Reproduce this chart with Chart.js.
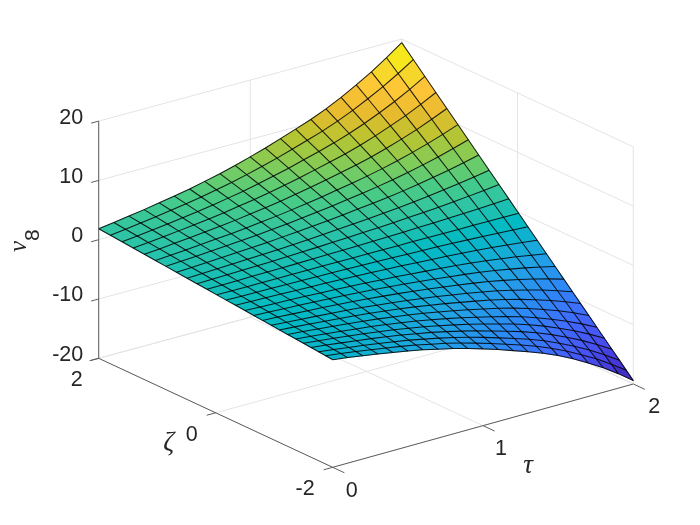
<!DOCTYPE html>
<html><head><meta charset="utf-8">
<style>html,body{margin:0;padding:0;background:#fff}canvas{display:block}</style>
<script src="https://cdn.jsdelivr.net/npm/chart.js@4"></script></head>
<body><canvas id="c" width="700" height="525"></canvas>
<script>
const tau=[0,0.1,0.2,0.3,0.4,0.5,0.6,0.7,0.8,0.9,1,1.1,1.2,1.3,1.4,1.5,1.6,1.7,1.8,1.9,2];
const zeta=[-2,-1.88,-1.76,-1.63,-1.5,-1.37,-1.23,-1.09,-0.95,-0.8,-0.65,-0.5,-0.34,-0.18,-0.02,0.15,0.32,0.49,0.67,0.85,1.03,1.22,1.41,1.6,1.8,2];
const nu8=[
[-1.85,-2.2,-2.6,-3,-3.45,-3.9,-4.4,-5,-5.6,-6.3,-7.05,-7.85,-8.75,-9.65,-10.6,-11.7,-12.95,-14.35,-15.85,-17.55,-19.4],
[-1.74,-2.07,-2.44,-2.82,-3.24,-3.67,-4.14,-4.7,-5.26,-5.92,-6.63,-7.38,-8.23,-9.07,-9.96,-11,-12.17,-13.49,-14.9,-16.5,-18.24],
[-1.63,-1.94,-2.29,-2.64,-3.04,-3.43,-3.87,-4.4,-4.93,-5.54,-6.2,-6.91,-7.7,-8.49,-9.33,-10.3,-11.4,-12.63,-13.95,-15.44,-17.07],
[-1.51,-1.79,-2.12,-2.45,-2.81,-3.18,-3.59,-4.08,-4.56,-5.13,-5.75,-6.4,-7.13,-7.86,-8.64,-9.54,-10.55,-11.7,-12.92,-14.3,-15.81],
[-1.39,-1.65,-1.95,-2.25,-2.59,-2.93,-3.3,-3.75,-4.2,-4.73,-5.29,-5.89,-6.56,-7.24,-7.95,-8.78,-9.71,-10.76,-11.89,-13.16,-14.55],
[-1.27,-1.51,-1.78,-2.06,-2.36,-2.67,-3.01,-3.43,-3.84,-4.32,-4.83,-5.38,-5.99,-6.61,-7.26,-8.01,-8.87,-9.83,-10.86,-12.02,-13.29],
[-1.14,-1.35,-1.6,-1.85,-2.12,-2.4,-2.71,-3.08,-3.44,-3.87,-4.34,-4.83,-5.38,-5.93,-6.52,-7.2,-7.96,-8.83,-9.75,-10.79,-11.93],
[-1.01,-1.2,-1.42,-1.64,-1.88,-2.13,-2.4,-2.73,-3.05,-3.43,-3.84,-4.28,-4.77,-5.26,-5.78,-6.38,-7.06,-7.82,-8.64,-9.56,-10.57],
[-0.88,-1.05,-1.24,-1.43,-1.64,-1.85,-2.09,-2.38,-2.66,-2.99,-3.35,-3.73,-4.16,-4.58,-5.04,-5.56,-6.15,-6.82,-7.53,-8.34,-9.22],
[-0.74,-0.88,-1.04,-1.2,-1.38,-1.56,-1.76,-2,-2.24,-2.52,-2.82,-3.14,-3.5,-3.86,-4.24,-4.68,-5.18,-5.74,-6.34,-7.02,-7.76],
[-0.6,-0.72,-0.85,-0.98,-1.12,-1.27,-1.43,-1.63,-1.82,-2.05,-2.29,-2.55,-2.84,-3.14,-3.45,-3.8,-4.21,-4.66,-5.15,-5.7,-6.31],
[-0.46,-0.55,-0.65,-0.75,-0.86,-0.98,-1.1,-1.25,-1.4,-1.58,-1.76,-1.96,-2.19,-2.41,-2.65,-2.93,-3.24,-3.59,-3.96,-4.39,-4.85],
[-0.31,-0.37,-0.44,-0.51,-0.59,-0.66,-0.75,-0.85,-0.95,-1.07,-1.2,-1.33,-1.49,-1.64,-1.8,-1.99,-2.2,-2.44,-2.69,-2.98,-3.3],
[-0.17,-0.2,-0.23,-0.27,-0.31,-0.35,-0.4,-0.45,-0.5,-0.57,-0.63,-0.71,-0.79,-0.87,-0.95,-1.05,-1.17,-1.29,-1.43,-1.58,-1.75],
[-0.02,-0.02,-0.03,-0.03,-0.03,-0.04,-0.04,-0.05,-0.06,-0.06,-0.07,-0.08,-0.09,-0.1,-0.11,-0.12,-0.13,-0.14,-0.16,-0.18,-0.19],
[0.14,0.17,0.2,0.23,0.26,0.29,0.33,0.38,0.42,0.47,0.53,0.59,0.66,0.72,0.8,0.88,0.97,1.08,1.19,1.32,1.46],
[0.3,0.35,0.42,0.48,0.55,0.62,0.7,0.8,0.9,1.01,1.13,1.26,1.4,1.54,1.7,1.87,2.07,2.3,2.54,2.81,3.1],
[0.45,0.54,0.64,0.74,0.85,0.96,1.08,1.23,1.37,1.54,1.73,1.92,2.14,2.36,2.6,2.87,3.17,3.52,3.88,4.3,4.75],
[0.62,0.74,0.87,1.01,1.16,1.31,1.47,1.68,1.88,2.11,2.36,2.63,2.93,3.23,3.55,3.92,4.34,4.81,5.31,5.88,6.5],
[0.79,0.94,1.11,1.28,1.47,1.66,1.87,2.13,2.38,2.68,3,3.34,3.72,4.1,4.51,4.97,5.5,6.1,6.74,7.46,8.25],
[0.95,1.13,1.34,1.55,1.78,2.01,2.27,2.58,2.88,3.24,3.63,4.04,4.51,4.97,5.46,6.03,6.67,7.39,8.16,9.04,9.99],
[1.13,1.34,1.59,1.83,2.1,2.38,2.68,3.05,3.42,3.84,4.3,4.79,5.34,5.89,6.47,7.14,7.9,8.75,9.67,10.71,11.83],
[1.3,1.55,1.83,2.12,2.43,2.75,3.1,3.53,3.95,4.44,4.97,5.53,6.17,6.8,7.47,8.25,9.13,10.12,11.17,12.37,13.68],
[1.48,1.76,2.08,2.4,2.76,3.12,3.52,4,4.48,5.04,5.64,6.28,7,7.72,8.48,9.36,10.36,11.48,12.68,14.04,15.52],
[1.67,1.98,2.34,2.7,3.11,3.51,3.96,4.5,5.04,5.67,6.35,7.07,7.88,8.69,9.54,10.53,11.66,12.92,14.27,15.8,17.46],
[1.85,2.2,2.6,3,3.45,3.9,4.4,5,5.6,6.3,7.05,7.85,8.75,9.65,10.6,11.7,12.95,14.35,15.85,17.55,19.4]
];
const tauTicks=[0,1,2];
const zetaTicks=[2,0,-2];
const nuTicks=[20,10,0,-10,-20];

// view: where the floor corners of the axes box land on the picture plane
const view={A:[332.7,467.3],B:[633.3,384],C:[98.7,358.3],D:[401.7,276.3],zUnit:5.93,zFloor:-20};
function proj(t,s,z){
  const u=t/2,v=(s+2)/4;
  const x=(1-u)*(1-v)*view.A[0]+u*(1-v)*view.B[0]+(1-u)*v*view.C[0]+u*v*view.D[0];
  const y=(1-u)*(1-v)*view.A[1]+u*(1-v)*view.B[1]+(1-u)*v*view.C[1]+u*v*view.D[1];
  return {x,y:y-(z-view.zFloor)*view.zUnit};
}
// parula colormap stops: [index of 63, r, g, b]
const parula=[[0,.2422,.1504,.6603],[4,.2706,.2147,.8364],[9,.2810,.3228,.9579],[14,.2440,.4358,.9988],[18,.1786,.5289,.9682],[24,.1248,.6459,.8883],[30,.0067,.7312,.7660],[34,.1717,.7670,.6554],[38,.2906,.7973,.5188],[42,.5044,.7993,.348],[46,.7242,.7698,.191],[50,.9035,.733,.1774],[54,.9961,.7653,.2199],[58,.9619,.8639,.1537],[63,.9763,.9831,.0538]];
function color(z){
  const t=Math.max(0,Math.min(1,(z+19.4)/38.8))*63;
  let i=0;while(i<parula.length-2&&parula[i+1][0]<=t)i++;
  const a=parula[i],b=parula[i+1],f=(t-a[0])/(b[0]-a[0]);
  const c=[1,2,3].map(k=>Math.round(255*(a[k]+(b[k]-a[k])*f)));
  return `rgb(${c[0]},${c[1]},${c[2]})`;
}
function lineDs(pts,col,w,order){
  return {data:pts,showLine:true,borderColor:col,borderWidth:w,pointRadius:0,tension:0,fill:false,order,borderCapStyle:'butt'};
}
const datasets=[];
const GRID='#e4e4e4',AX='#5e5e5e';
// back walls and floor grid
function gridPath(a,b){datasets.push(lineDs([proj(...a),proj(...b)],GRID,1,3));}
nuTicks.forEach(z=>{gridPath([0,2,z],[2,2,z]);gridPath([2,2,z],[2,-2,z]);});
tauTicks.forEach(t=>{gridPath([t,2,-20],[t,2,20]);gridPath([t,2,-20],[t,-2,-20]);});
zetaTicks.forEach(s=>{gridPath([2,s,-20],[2,s,20]);gridPath([0,s,-20],[2,s,-20]);});
// surface faces
for(let j=0;j<zeta.length-1;j++)for(let i=0;i<tau.length-1;i++){
  const a=proj(tau[i],zeta[j],nu8[j][i]),b=proj(tau[i+1],zeta[j],nu8[j][i+1]),
        c=proj(tau[i+1],zeta[j+1],nu8[j+1][i+1]),d=proj(tau[i],zeta[j+1],nu8[j+1][i]);
  const col=color((nu8[j][i]+nu8[j][i+1]+nu8[j+1][i]+nu8[j+1][i+1])/4);
  const ds=lineDs([a,b,c,d,a],col,0.6,2);
  ds.fill='shape';ds.backgroundColor=col;
  datasets.push(ds);
}
// mesh
const MESH='rgba(0,0,0,0.85)';
zeta.forEach((s,j)=>datasets.push(lineDs(tau.map((t,i)=>proj(t,s,nu8[j][i])),MESH,1.05,1)));
tau.forEach((t,i)=>datasets.push(lineDs(zeta.map((s,j)=>proj(t,s,nu8[j][i])),MESH,1.05,1)));
// axes
datasets.push(lineDs([proj(0,2,-20),proj(0,2,20)],AX,1,0));
datasets.push(lineDs([proj(0,2,-20),proj(0,-2,-20)],AX,1,0));
datasets.push(lineDs([proj(0,-2,-20),proj(2,-2,-20)],AX,1,0));
// ticks
nuTicks.forEach(z=>datasets.push(lineDs([proj(0,2,z),proj(-0.05,2,z)],AX,1,0)));
zetaTicks.forEach(s=>datasets.push(lineDs([proj(0,s,-20),proj(-0.06,s,-20)],AX,1,0)));
tauTicks.forEach(t=>datasets.push(lineDs([proj(t,-2,-20),proj(t,-2.2,-20)],AX,1,0)));

const TEXT='#262626';
const labelPlugin={id:'labels',afterDraw(chart){
  const g=chart.ctx,X=chart.scales.x,Y=chart.scales.y;
  function put(str,p,dx,dy,align,font){
    g.save();g.font=font;g.fillStyle=TEXT;g.textAlign=align;g.textBaseline='middle';
    g.fillText(str,X.getPixelForValue(p.x)+dx,Y.getPixelForValue(p.y)+dy);g.restore();
  }
  const num='21.5px "Liberation Sans"',greek='italic 27px "Liberation Serif"';
  nuTicks.forEach(z=>put(String(z),proj(0,2,z),-15.5,-3.5,'right',num));
  zetaTicks.forEach(s=>put(String(s),proj(0,s,-20),s===2?-16:s===0?-18:-18,22,'right',num));
  tauTicks.forEach(t=>put(String(t),proj(t,-2,-20),t===0?19:t===1?18:21,t===0?24:23,'center',num));
  put('τ',proj(1,-2,-20),45,40,'center',greek);
  put('ζ',proj(0,0,-20),-47,30,'center',greek);
  g.save();g.translate(X.getPixelForValue(26),Y.getPixelForValue(241));g.rotate(-Math.PI/2);
  g.fillStyle=TEXT;g.textBaseline='alphabetic';g.textAlign='left';
  g.font='italic 25px "Liberation Serif"';g.fillText('ν',-11,0);
  g.font='21px "Liberation Sans"';g.fillText('8',0,13);
  g.restore();
}};
new Chart(document.getElementById('c'),{
  type:'scatter',
  data:{datasets},
  options:{responsive:false,animation:false,
    layout:{padding:0},
    plugins:{legend:{display:false},tooltip:{enabled:false}},
    scales:{x:{type:'linear',min:0,max:700,display:false},y:{type:'linear',min:0,max:525,reverse:true,display:false}}
  },
  plugins:[labelPlugin]
});
</script></body></html>
